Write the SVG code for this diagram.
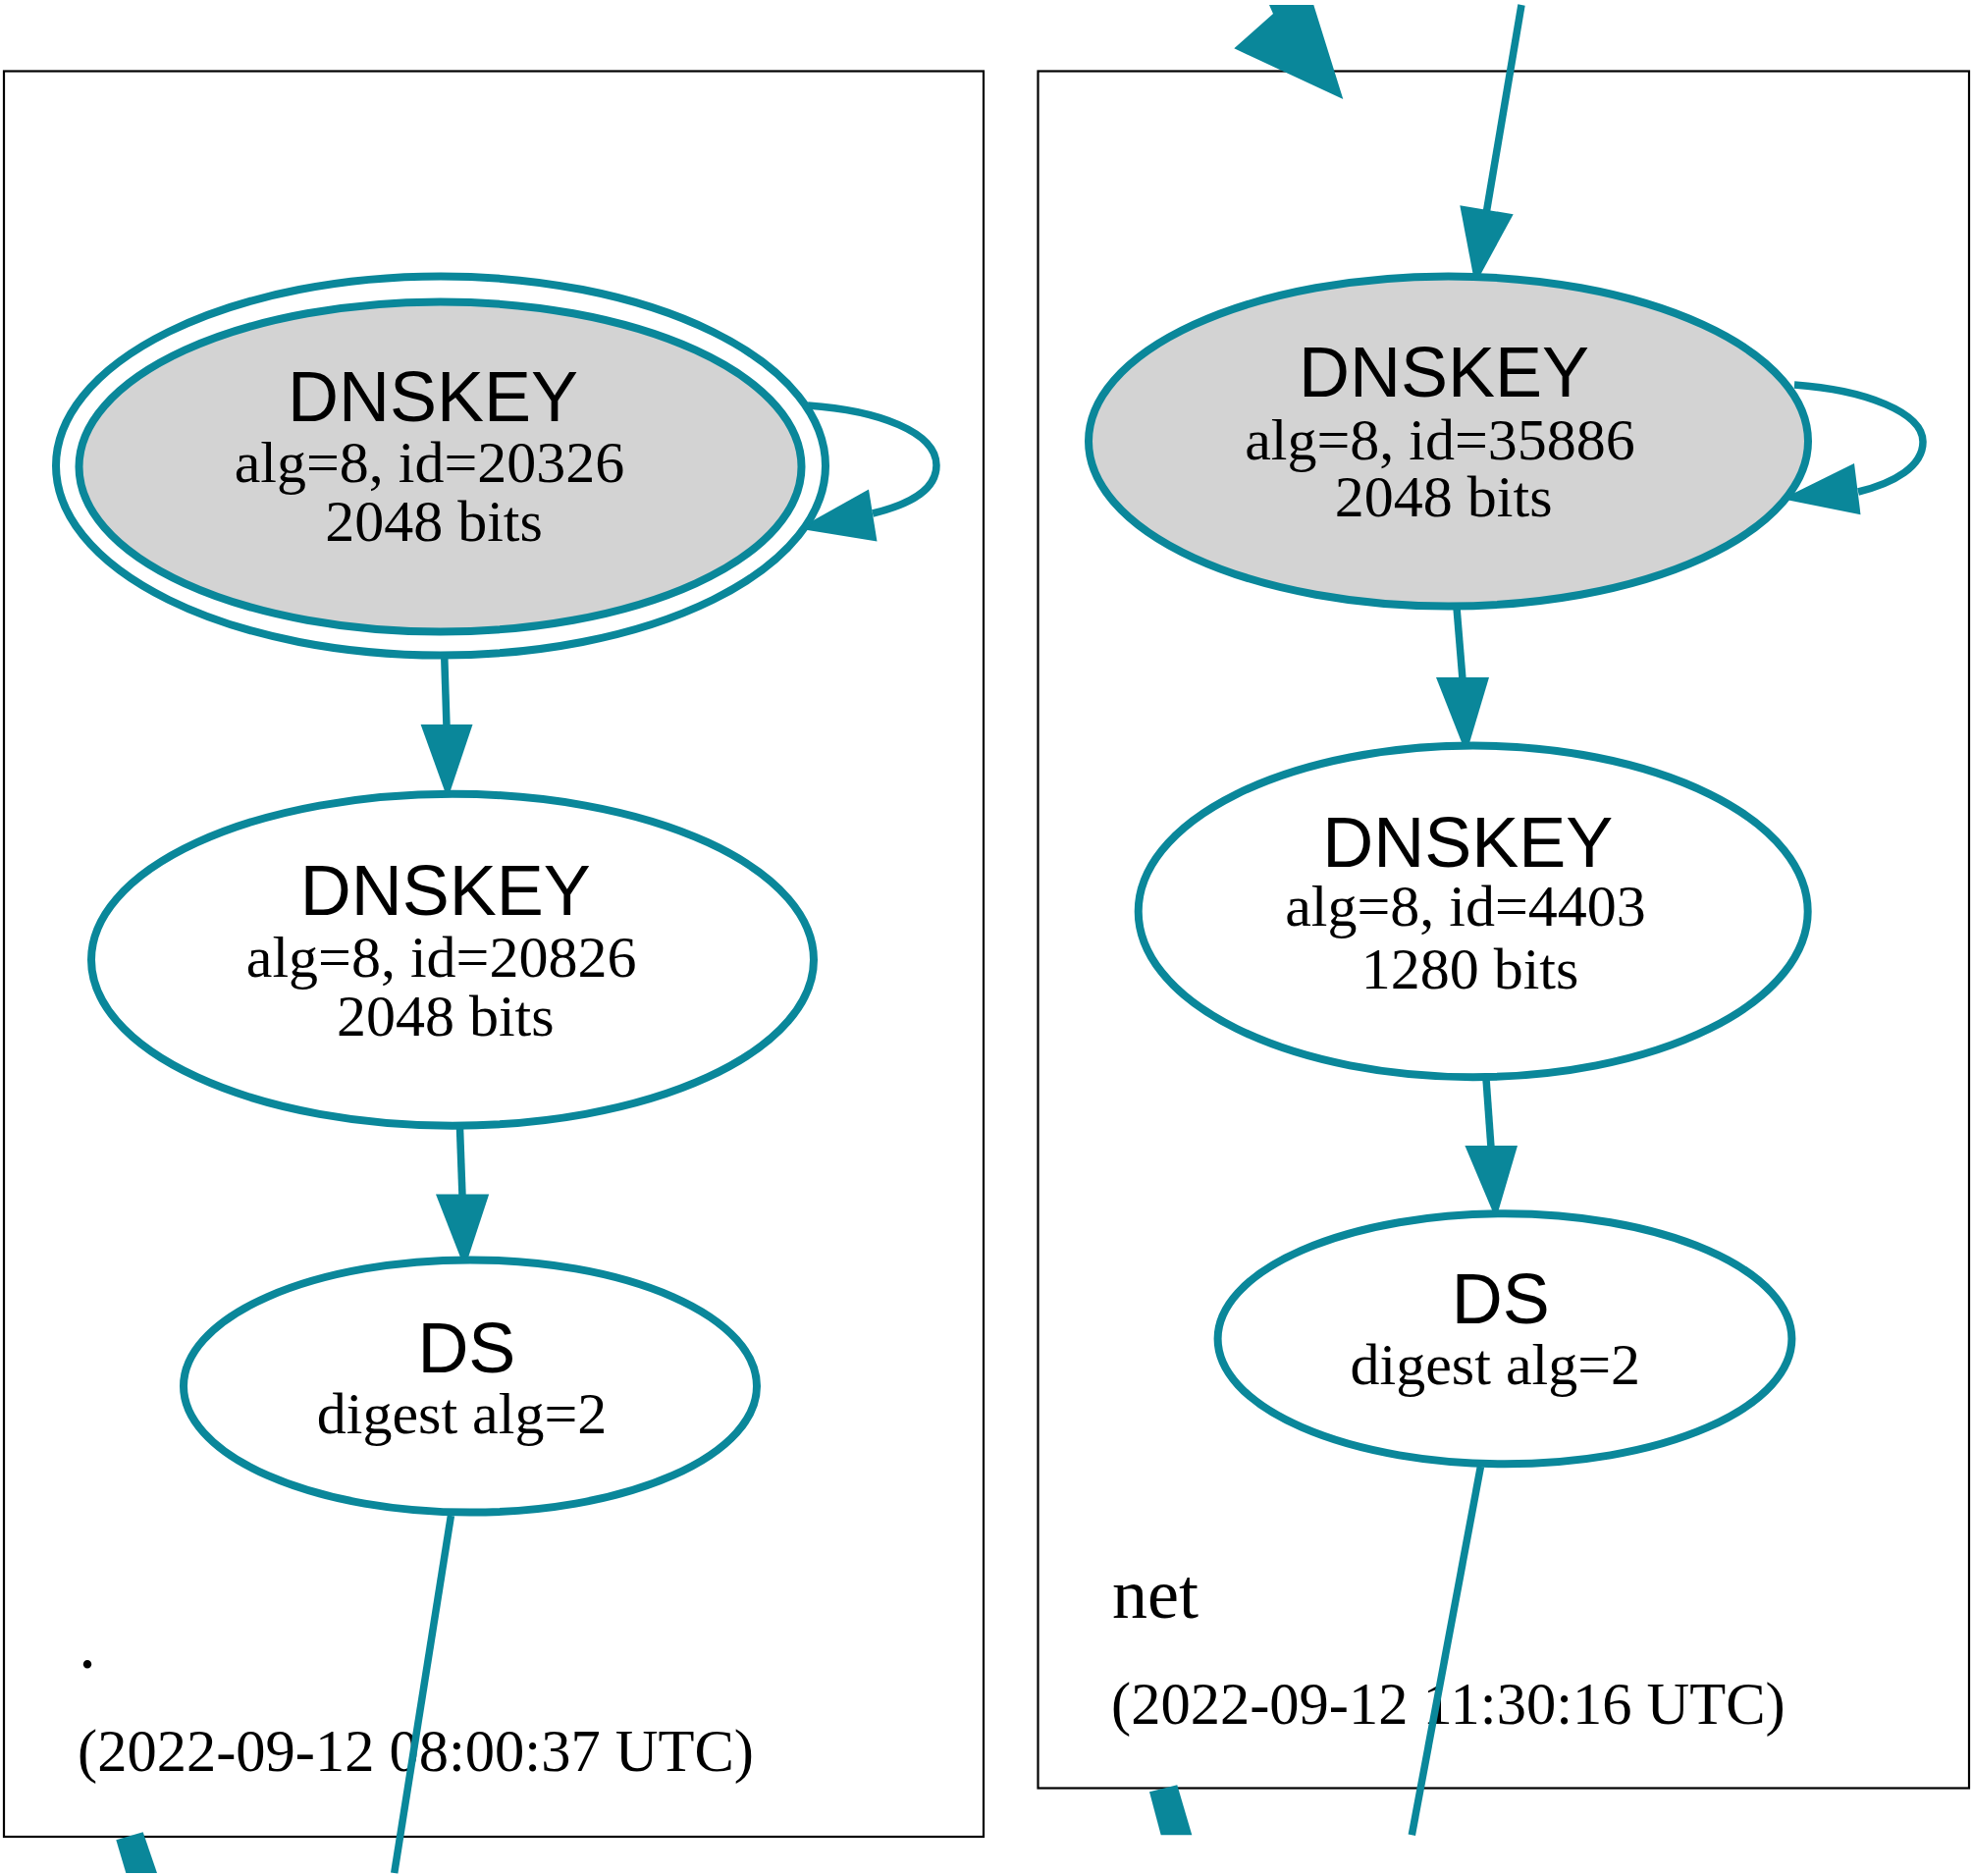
<svg xmlns="http://www.w3.org/2000/svg" width="2009" height="1911" viewBox="0 0 2009 1911">
<style>
.bg{fill:#ffffff}
.cluster{fill:none;stroke:#000000;stroke-width:2.2}
.node{fill:#ffffff;stroke:#0a879a;stroke-width:8}
.ksk{fill:#d3d3d3;stroke:#0a879a;stroke-width:8}
.ring{fill:none;stroke:#0a879a;stroke-width:8}
.edge{fill:none;stroke:#0a879a;stroke-width:7.5}
.head{fill:#0a879a;stroke:none}
.title{font-family:"Liberation Sans",Arial,Helvetica,sans-serif;font-size:72px;fill:#000;text-anchor:middle}
.sub{font-family:"Liberation Serif","Times New Roman",serif;font-size:60px;fill:#000;text-anchor:middle}
.zname{font-family:"Liberation Serif","Times New Roman",serif;font-size:72px;fill:#000}
.zdate{font-family:"Liberation Serif","Times New Roman",serif;font-size:60.5px;fill:#000}
</style>
<rect class="bg" x="0" y="0" width="2009" height="1911"/>

<g id="cluster-root">
<rect class="cluster" x="4" y="72.5" width="998" height="1798.5"/>
<text class="zname" x="80" y="1699">.</text>
<text class="zdate" x="79" y="1803.5">(2022-09-12 08:00:37 UTC)</text>
</g>

<g id="cluster-net">
<rect class="cluster" x="1057.5" y="72.5" width="948.5" height="1749"/>
<text class="zname" x="1133" y="1647.5">net</text>
<text class="zdate" x="1132" y="1755.5">(2022-09-12 11:30:16 UTC)</text>
</g>

<g id="connectors">
<path class="edge" d="M823,413 C895,418 954,440 954,474 C954,498 930,513 889,523"/>
<polygon class="head" points="885,498.5 893.5,551.5 813.5,538.5"/>
<path class="edge" d="M452.8,671 L455,740"/>
<polygon class="head" points="428.6,738 481.5,738 456,814"/>
<path class="edge" d="M468.5,1149 L471,1218"/>
<polygon class="head" points="444,1216.4 498.2,1216.4 473.4,1292"/>
<path class="edge" d="M459.4,1544 L401.7,1908"/>
<polygon class="head" points="118.3,1874.3 145.7,1866.3 160,1908 128.3,1908"/>
<path class="edge" d="M1550,5 L1514.5,215"/>
<polygon class="head" points="1487.3,209.3 1541.7,218.3 1502.7,290"/>
<polygon class="head" points="1293,5 1297,14 1257.3,49.3 1368.3,101 1338.3,5"/>
<path class="edge" d="M1828,392 C1900,397 1959,420 1959,450 C1959,475 1930,492 1893,501"/>
<polygon class="head" points="1889,472 1895.5,524.2 1815.7,508.3"/>
<path class="edge" d="M1484,619 L1490,692"/>
<polygon class="head" points="1463,690 1517,690 1493.7,768"/>
<path class="edge" d="M1514,1099 L1519,1169"/>
<polygon class="head" points="1492.4,1167 1546,1167 1524,1242"/>
<path class="edge" d="M1508.4,1494 L1438.3,1869.3"/>
<polygon class="head" points="1171,1825.3 1199.3,1818.3 1214.3,1869.3 1182.7,1869.3"/>
</g>

<g id="node-root-dnskey-20326">
<ellipse class="ring" cx="449" cy="474.5" rx="392" ry="193"/>
<ellipse class="ksk" cx="448.5" cy="475.5" rx="368" ry="168"/>
<text class="title" x="441" y="429">DNSKEY</text>
<text class="sub" x="437.5" y="491">alg=8, id=20326</text>
<text class="sub" x="442" y="551">2048 bits</text>
</g>

<g id="node-root-dnskey-20826">
<ellipse class="node" cx="461" cy="977.7" rx="368" ry="169"/>
<text class="title" x="453.8" y="932">DNSKEY</text>
<text class="sub" x="449.6" y="995">alg=8, id=20826</text>
<text class="sub" x="453.8" y="1055">2048 bits</text>
</g>

<g id="node-root-ds">
<ellipse class="node" cx="479" cy="1412" rx="292" ry="128.6"/>
<text class="title" x="475.4" y="1397.5">DS</text>
<text class="sub" x="470.5" y="1459.5">digest alg=2</text>
</g>

<g id="node-net-dnskey-35886">
<ellipse class="ksk" cx="1475.5" cy="449.5" rx="366.5" ry="168"/>
<text class="title" x="1471" y="403.7">DNSKEY</text>
<text class="sub" x="1467" y="467.5">alg=8, id=35886</text>
<text class="sub" x="1470.7" y="526">2048 bits</text>
</g>

<g id="node-net-dnskey-4403">
<ellipse class="node" cx="1500.7" cy="928.4" rx="341" ry="168.8"/>
<text class="title" x="1495.3" y="883.3">DNSKEY</text>
<text class="sub" x="1493" y="942.6">alg=8, id=4403</text>
<text class="sub" x="1497.5" y="1006.7">1280 bits</text>
</g>

<g id="node-net-ds">
<ellipse class="node" cx="1533" cy="1363.8" rx="292.4" ry="127.5"/>
<text class="title" x="1528.8" y="1348">DS</text>
<text class="sub" x="1523.3" y="1410">digest alg=2</text>
</g>
</svg>
